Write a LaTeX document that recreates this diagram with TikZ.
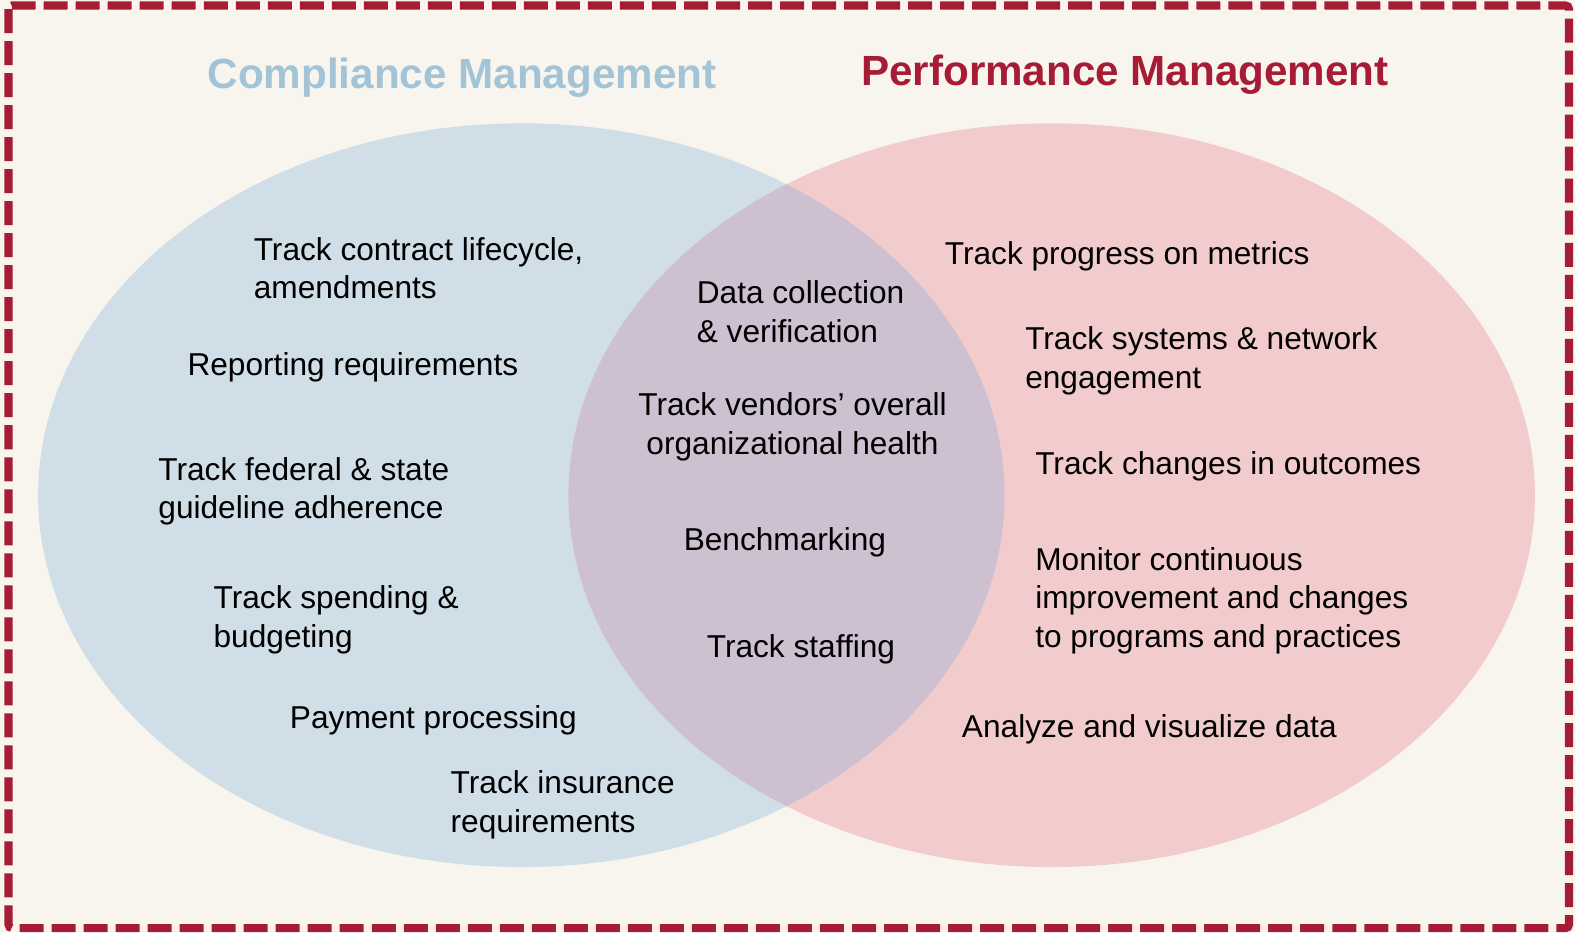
\documentclass[tikz,border=0pt]{standalone}
\usepackage{fontspec}
\setmainfont{Liberation Sans}

\definecolor{paper}{HTML}{F8F5EE}
\definecolor{frame}{HTML}{A61C35}
\definecolor{compl}{HTML}{D0DEE8}
\definecolor{perf}{HTML}{F2CCCC}
\definecolor{both}{HTML}{CDC0D0}
\definecolor{compltitle}{HTML}{A3C4D6}

\tikzset{
  item/.style={anchor=west, align=left, inner sep=0pt, font=\fontsize{9}{11}\selectfont},
  title/.style={inner sep=0pt, font=\fontsize{12}{14}\selectfont\bfseries}
}

\begin{document}
\begin{tikzpicture}[x=0.010045cm, y=-0.010045cm]
                \fill[paper] (0,0) rectangle (1568,928);
                \useasboundingbox (0,0) rectangle (1568,928);
                \draw[frame, line width=2.3pt, dash pattern=on 0.24cm off 0.08cm, rounded corners=1pt]
                    (8.5,5.5) rectangle (1562,924);
                \fill[compl] (519,493) ellipse [x radius=4.83cm, y radius=3.717cm];
                \fill[perf] (1047,493) ellipse [x radius=4.83cm, y radius=3.717cm];
                \begin{scope}
                    \clip (519,493) ellipse [x radius=4.83cm, y radius=3.717cm];
                    \fill[both] (1047,493) ellipse [x radius=4.83cm, y radius=3.717cm];
                \end{scope}
                \node[title, compltitle] (compl) at (460,77) {Compliance Management};
                \node[title, frame] (perf) at (1120,74) {Performance Management};
                \node[item] (contract) at (252,267) {Track contract lifecycle,\\amendments};
                \node[item] (report) at (186,366) {Reporting requirements};
                \node[item] (federal) at (157,489) {Track federal \& state\\guideline adherence};
                \node[item] (spend) at (212,617) {Track spending \&\\budgeting};
                \node[item] (payment) at (288,717) {Payment processing};
                \node[item] (insur) at (448,801) {Track insurance\\requirements};
                \node[item] (data) at (693,310) {Data collection\\\& verification};
                \node[item, anchor=center, align=center] (vendor) at (789,425) {Track vendors’ overall\\organizational health};
                \node[item] (bench) at (680,540) {Benchmarking};
                \node[item] (staff) at (703,646) {Track staffing};
                \node[item] (metric) at (940,255) {Track progress on metrics};
                \node[item] (system) at (1020,359) {Track systems \& network\\engagement};
                \node[item] (outcome) at (1030,464) {Track changes in outcomes};
                \node[item] (monitor) at (1030,598) {Monitor continuous\\improvement and changes\\to programs and practices};
                \node[item] (analyze) at (957,726) {Analyze and visualize data};
            \end{tikzpicture}
\end{document}
